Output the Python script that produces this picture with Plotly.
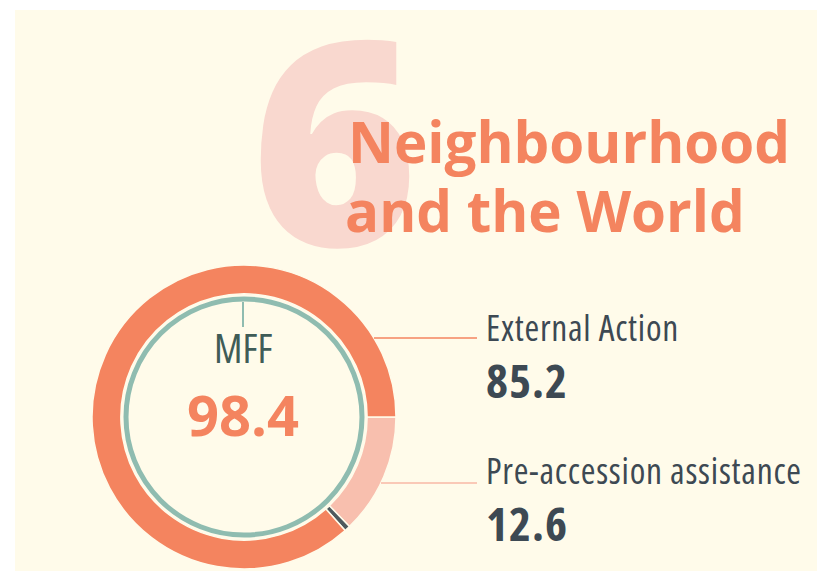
import plotly.graph_objects as go

W, H = 817, 571

# ---- data ----
categories = ["Pre-accession assistance", "Other", "External Action"]
values = [12.6, 0.6, 85.2]
slice_colors = ["#f8bfae", "#4e5a5e", "#f4845f"]
total_label = "MFF"
total_value = 98.4
heading_number = "6"
heading_lines = ["Neighbourhood", "and the World"]

BG = "#fffbea"
ORANGE = "#f4845f"
DARK = "#3d4953"
TEAL = "#8fbcb0"


def px(x):
    return x / W


def py(y):
    return 1 - y / H


def cond(t, spacing=0.0):
    return f'<span style="font-stretch:75%;letter-spacing:{spacing}px">{t}</span>'


# donut geometry (pixels)
cx, cy, R = 244, 417, 152
r_teal = 118

fig = go.Figure()
fig.add_trace(go.Pie(
    labels=categories,
    values=values,
    sort=False,
    direction="clockwise",
    rotation=90,
    hole=0.81,
    marker=dict(colors=slice_colors, line=dict(color=BG, width=1.5)),
    textinfo="none",
    hoverinfo="label+value",
    showlegend=False,
    domain=dict(x=[px(cx - R), px(cx + R)], y=[py(cy + R), py(cy - R)]),
))

shapes = [
    dict(type="rect", xref="paper", yref="paper", x0=px(15), x1=1, y0=0, y1=py(10),
         fillcolor=BG, line=dict(width=0), layer="below"),
    dict(type="circle", xref="paper", yref="paper",
         x0=px(cx - r_teal), x1=px(cx + r_teal), y0=py(cy + r_teal), y1=py(cy - r_teal),
         line=dict(color=TEAL, width=5), fillcolor="rgba(0,0,0,0)"),
    dict(type="line", xref="paper", yref="paper",
         x0=px(cx - 1), x1=px(cx - 1), y0=py(302), y1=py(327),
         line=dict(color=TEAL, width=2)),
    dict(type="line", xref="paper", yref="paper",
         x0=px(374), x1=px(477), y0=py(338), y1=py(338),
         line=dict(color=ORANGE, width=1.5)),
    dict(type="line", xref="paper", yref="paper",
         x0=px(381), x1=px(477), y0=py(483), y1=py(483),
         line=dict(color="#f8b9a6", width=1.5)),
]

annotations = [
    dict(text=heading_number, x=px(249), y=py(134.5), xanchor="left", yanchor="middle",
         font=dict(family="Open Sans", size=285, color="#f9d8cf", weight=800)),
    dict(text=heading_lines[0], x=px(346), y=py(141), xanchor="left", yanchor="middle",
         font=dict(family="Open Sans", size=56.5, color=ORANGE, weight=700)),
    dict(text=heading_lines[1], x=px(343), y=py(211), xanchor="left", yanchor="middle",
         font=dict(family="Open Sans", size=56.5, color=ORANGE, weight=700)),
    dict(text=cond(total_label), x=px(243), y=py(347.5), xanchor="center", yanchor="middle",
         font=dict(family="Open Sans", size=40, color="#3f5c57")),
    dict(text=f"{total_value}", x=px(243), y=py(413.5), xanchor="center", yanchor="middle",
         font=dict(family="Open Sans", size=56, color=ORANGE, weight=700)),
    dict(text=cond(categories[2], 0.75), x=px(484), y=py(326.5), xanchor="left", yanchor="middle",
         font=dict(family="Open Sans", size=35.5, color=DARK)),
    dict(text=cond(f"{values[2]}", 1), x=px(484), y=py(379.5), xanchor="left", yanchor="middle",
         font=dict(family="Open Sans", size=47, color=DARK, weight=700)),
    dict(text=cond(categories[0], 0.75), x=px(484), y=py(470), xanchor="left", yanchor="middle",
         font=dict(family="Open Sans", size=35.5, color=DARK)),
    dict(text=cond(f"{values[0]}", 1), x=px(484), y=py(522.5), xanchor="left", yanchor="middle",
         font=dict(family="Open Sans", size=47, color=DARK, weight=700)),
]
for a in annotations:
    a.update(xref="paper", yref="paper", showarrow=False)

fig.update_layout(
    width=W, height=H,
    margin=dict(l=0, r=0, t=0, b=0),
    paper_bgcolor="white",
    plot_bgcolor="white",
    xaxis=dict(visible=False),
    yaxis=dict(visible=False),
    shapes=shapes,
    annotations=annotations,
)

fig.write_html(
    "out.html",
    config={"displayModeBar": False},
    post_script="document.body.style.margin='0';document.body.style.overflow='hidden';",
)
